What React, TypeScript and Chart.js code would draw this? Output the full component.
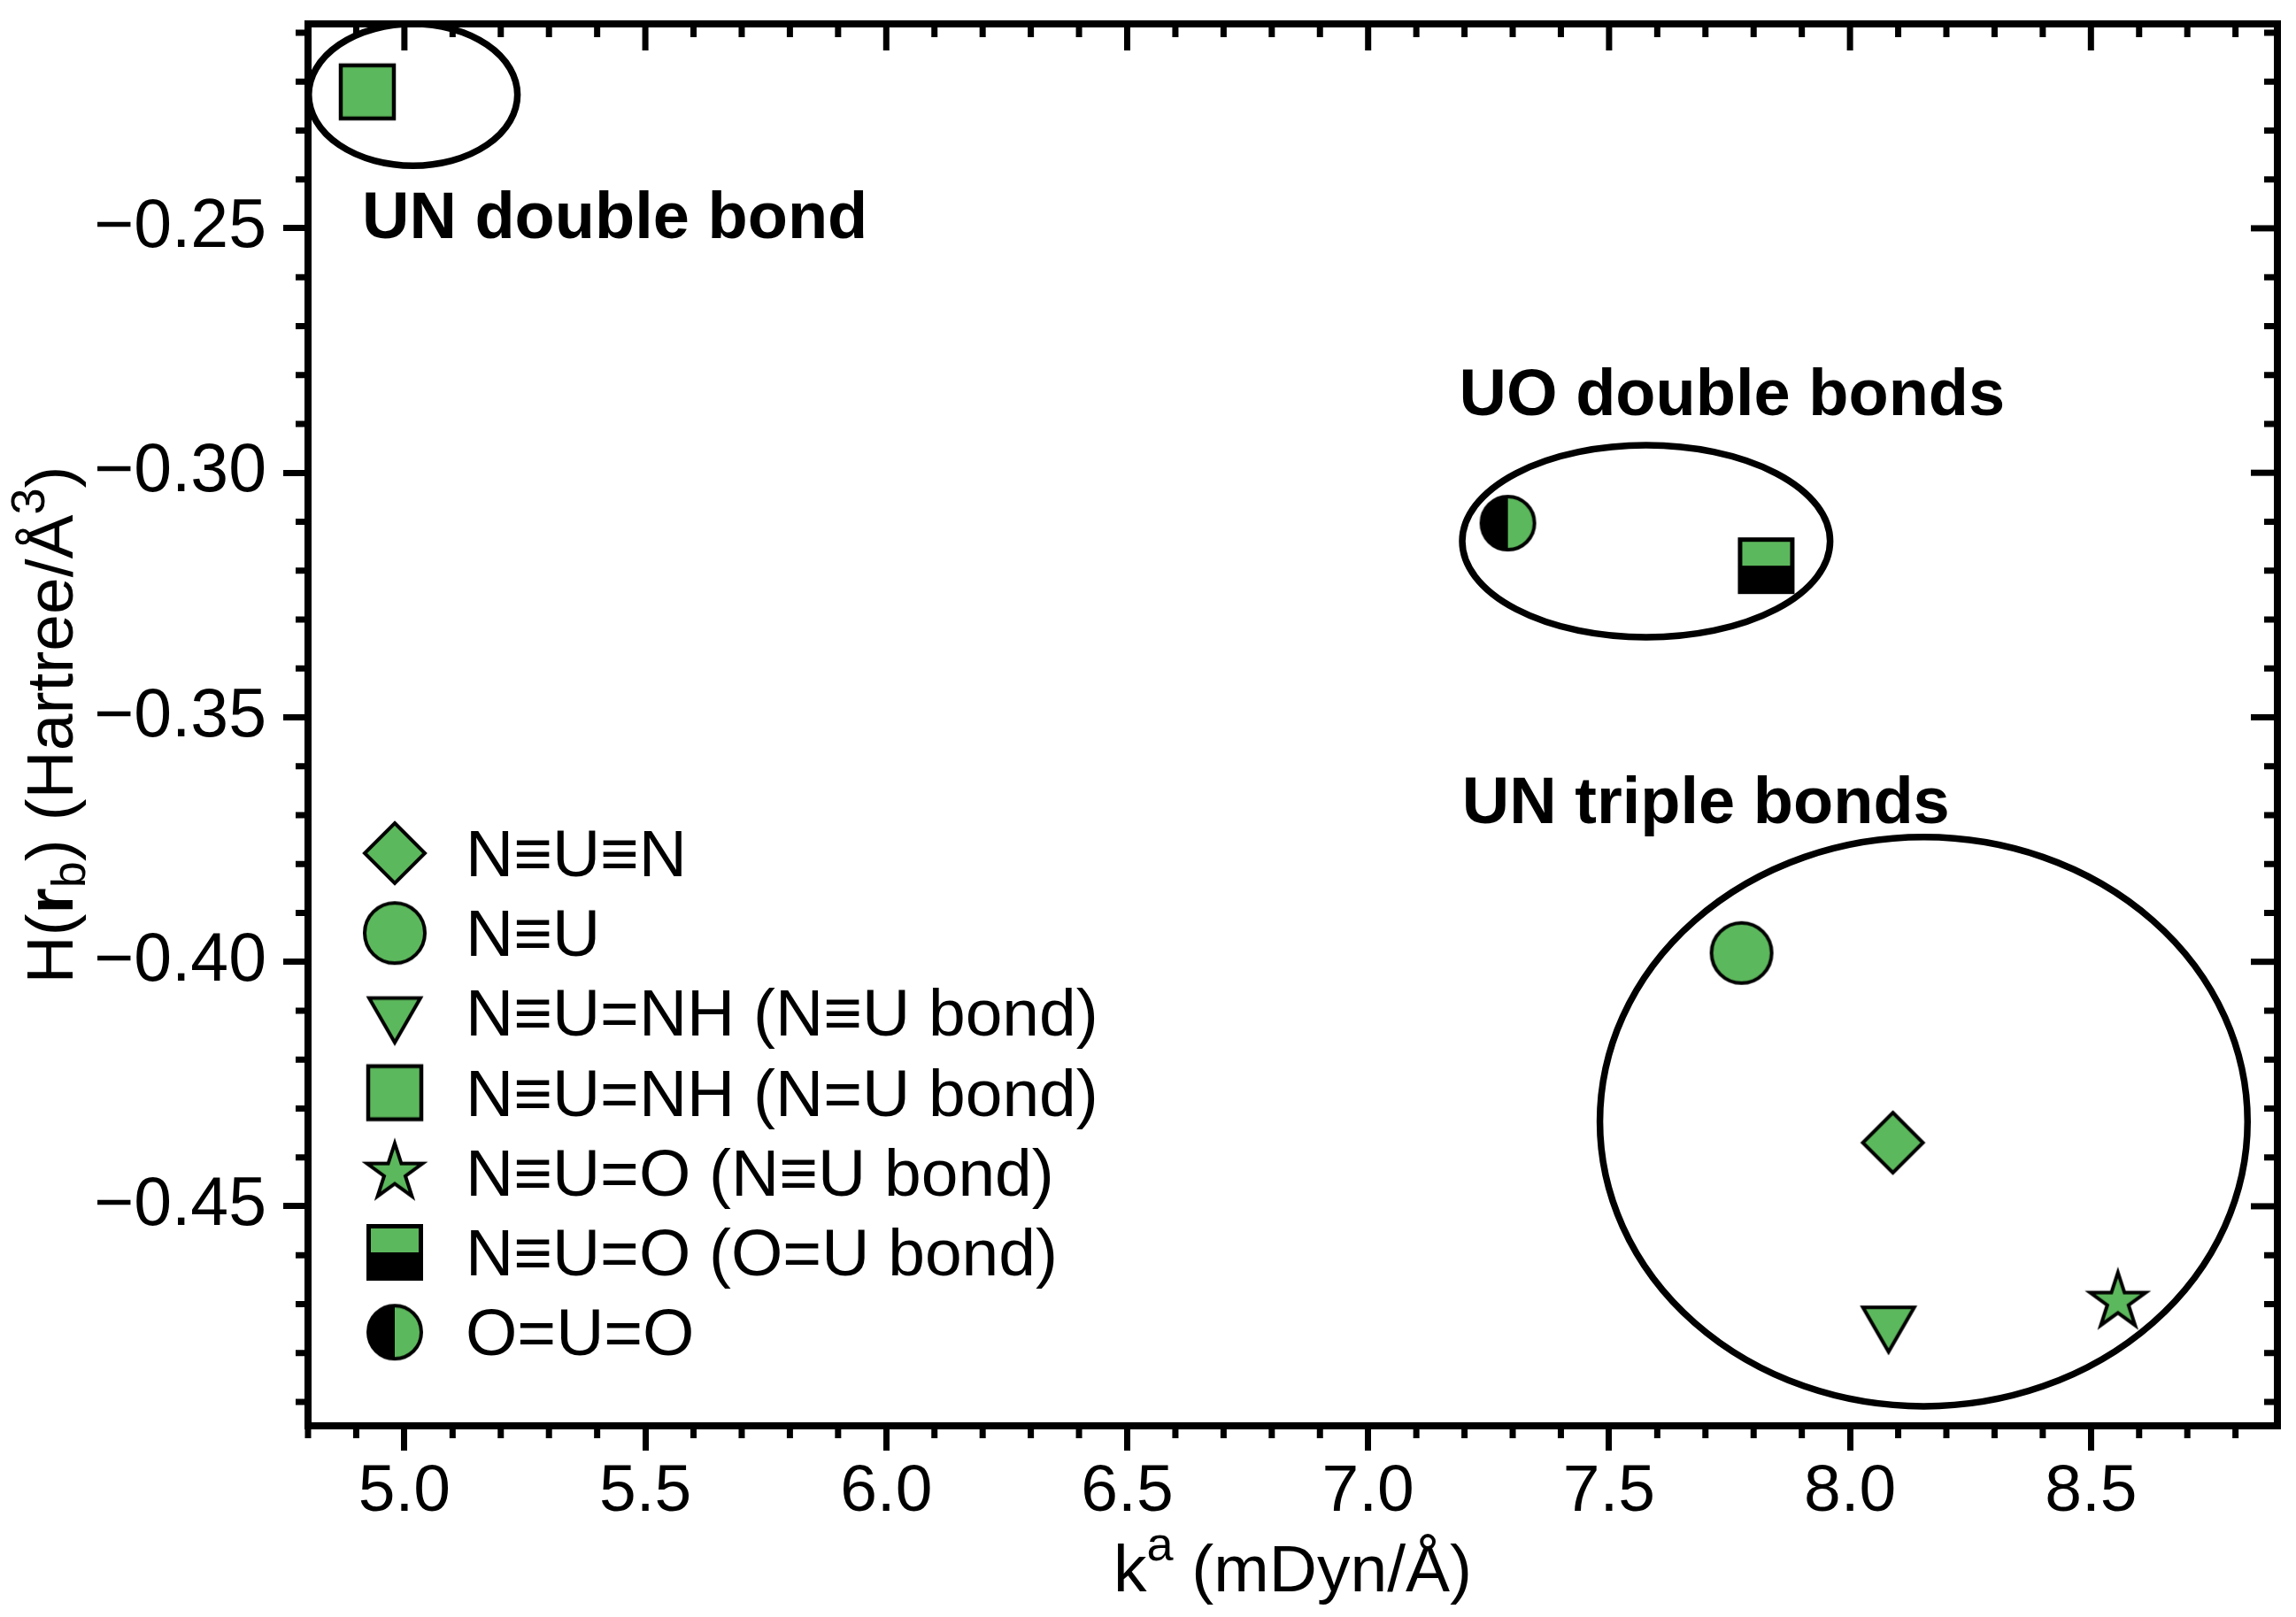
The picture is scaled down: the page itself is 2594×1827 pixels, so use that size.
import React, { useEffect, useRef } from 'react';
import { Chart, registerables } from 'chart.js';

Chart.register(...registerables);

// ---------------- data ----------------
const seriesLabels = [
  'N≡U≡N',
  'N≡U',
  'N≡U=NH (N≡U bond)',
  'N≡U=NH (N=U bond)',
  'N≡U=O (N≡U bond)',
  'N≡U=O (O=U bond)',
  'O=U=O',
];
// k^a (mDyn/Å)
const forceConstants = [8.089, 7.775, 8.080, 4.923, 8.556, 7.826, 7.290];
// H(r_b) (Hartree/Å^3)
const energyDensities = [-0.4370, -0.3982, -0.4737, -0.2221, -0.4695, -0.3190, -0.3103];
const markerKinds = ['diamond', 'circle', 'triangleDown', 'square', 'star', 'halfSquare', 'halfCircle'];

const xTickValues = [5.0, 5.5, 6.0, 6.5, 7.0, 7.5, 8.0, 8.5];
const yTickValues = [-0.45, -0.40, -0.35, -0.30, -0.25];
const xRange = [4.8, 8.887];
const yRange = [-0.4949, -0.2082];

// group annotations (data units)
const groupLabels = ['UN double bond', 'UO double bonds', 'UN triple bonds'];
const groupLabelX = [4.912, 7.189, 7.195];
const groupLabelY = [-0.2520, -0.2882, -0.3716];
const groupCenterX = [5.018, 7.577, 8.153];
const groupCenterY = [-0.2227, -0.3140, -0.4327];
const groupRadiusX = [0.2166, 0.3817, 0.672];
const groupRadiusY = [0.0145, 0.01964, 0.0582];

// ---------------- styles ----------------
const W = 2594;
const H = 1827;
const GREEN = '#5cb85c';
const FAMILY = '"Liberation Sans", Arial, Helvetica, sans-serif';

function makeMarker(kind: string): HTMLCanvasElement {
  const S = 90;
  const c = document.createElement('canvas');
  c.width = S;
  c.height = S;
  const g = c.getContext('2d') as CanvasRenderingContext2D;
  g.translate(S / 2, S / 2);
  g.lineWidth = 4;
  g.strokeStyle = '#000';
  g.fillStyle = GREEN;
  g.lineJoin = 'miter';
  g.beginPath();
  switch (kind) {
    case 'diamond':
      g.moveTo(0, -34);
      g.lineTo(34, 0);
      g.lineTo(0, 34);
      g.lineTo(-34, 0);
      g.closePath();
      g.fill();
      g.stroke();
      break;
    case 'circle':
      g.arc(0, 0, 34, 0, Math.PI * 2);
      g.fill();
      g.stroke();
      break;
    case 'triangleDown':
      g.moveTo(-29, -16.7);
      g.lineTo(29, -16.7);
      g.lineTo(0, 33.5);
      g.closePath();
      g.fill();
      g.stroke();
      break;
    case 'square':
      g.rect(-30, -30, 60, 60);
      g.fill();
      g.lineWidth = 4.5;
      g.stroke();
      break;
    case 'star': {
      const R = 33;
      const r = R * 0.382;
      for (let i = 0; i < 10; i++) {
        const ang = -Math.PI / 2 + (i * Math.PI) / 5;
        const rad = i % 2 === 0 ? R : r;
        const px = Math.cos(ang) * rad;
        const py = Math.sin(ang) * rad;
        if (i === 0) g.moveTo(px, py);
        else g.lineTo(px, py);
      }
      g.closePath();
      g.fill();
      g.stroke();
      break;
    }
    case 'halfSquare':
      g.fillStyle = GREEN;
      g.fillRect(-29.5, -29.5, 59, 29.5);
      g.fillStyle = '#000';
      g.fillRect(-29.5, 0, 59, 29.5);
      g.lineWidth = 5;
      g.strokeRect(-29.5, -29.5, 59, 59);
      break;
    case 'halfCircle':
      g.fillStyle = '#000';
      g.beginPath();
      g.arc(0, 0, 30, Math.PI / 2, (Math.PI * 3) / 2);
      g.closePath();
      g.fill();
      g.fillStyle = GREEN;
      g.beginPath();
      g.arc(0, 0, 30, -Math.PI / 2, Math.PI / 2);
      g.closePath();
      g.fill();
      g.beginPath();
      g.arc(0, 0, 30, 0, Math.PI * 2);
      g.stroke();
      break;
  }
  return c;
}

type Part = { text: string; font: string; dy: number };

function drawRich(ctx: CanvasRenderingContext2D, parts: Part[], cx: number, baseY: number) {
  let total = 0;
  const widths = parts.map((p) => {
    ctx.font = p.font;
    const w = ctx.measureText(p.text).width;
    total += w;
    return w;
  });
  let x = cx - total / 2;
  ctx.textAlign = 'left';
  ctx.textBaseline = 'alphabetic';
  parts.forEach((p, i) => {
    ctx.font = p.font;
    ctx.fillText(p.text, x, baseY + p.dy);
    x += widths[i];
  });
}

const decorPlugin = {
  id: 'decor',
  afterDatasetsDraw(chart: any) {
    const { ctx, chartArea: a, scales } = chart;
    const xs = scales.x;
    const ys = scales.y;
    // group ellipses
    ctx.save();
    ctx.beginPath();
    ctx.rect(a.left, a.top, a.right - a.left, a.bottom - a.top);
    ctx.clip();
    ctx.strokeStyle = '#000';
    ctx.lineWidth = 7.5;
    for (let i = 0; i < groupCenterX.length; i++) {
      const cx = xs.getPixelForValue(groupCenterX[i]);
      const cy = ys.getPixelForValue(groupCenterY[i]);
      const rx = Math.abs(xs.getPixelForValue(groupCenterX[i] + groupRadiusX[i]) - cx);
      const ry = Math.abs(ys.getPixelForValue(groupCenterY[i] + groupRadiusY[i]) - cy);
      ctx.beginPath();
      ctx.ellipse(cx, cy, rx, ry, 0, 0, Math.PI * 2);
      ctx.stroke();
    }
    ctx.restore();

    // group labels
    ctx.save();
    ctx.fillStyle = '#000';
    ctx.font = `bold 74px ${FAMILY}`;
    ctx.textAlign = 'left';
    ctx.textBaseline = 'alphabetic';
    for (let i = 0; i < groupLabels.length; i++) {
      ctx.fillText(groupLabels[i], xs.getPixelForValue(groupLabelX[i]), ys.getPixelForValue(groupLabelY[i]));
    }
    ctx.restore();

    // legend (inside plot, lower left)
    ctx.save();
    const markerX = a.left + 98;
    const textX = a.left + 178;
    const row0 = a.bottom - 647;
    const step = 90.2;
    ctx.font = `75px ${FAMILY}`;
    ctx.fillStyle = '#000';
    ctx.textAlign = 'left';
    ctx.textBaseline = 'alphabetic';
    chart.data.datasets.forEach((ds: any, i: number) => {
      const yy = row0 + i * step;
      const img = ds.pointStyle as HTMLCanvasElement;
      ctx.drawImage(img, markerX - img.width / 2, yy - img.height / 2);
      ctx.fillText(ds.label, textX, yy + 26);
    });
    ctx.restore();
  },
  afterDraw(chart: any) {
    const { ctx, chartArea: a, scales } = chart;
    const xs = scales.x;
    const ys = scales.y;
    ctx.save();
    ctx.strokeStyle = '#000';
    ctx.lineCap = 'butt';
    // minor & mirrored ticks
    ctx.lineWidth = 7;
    for (let k = 48; k <= 88; k++) {
      const px = xs.getPixelForValue(k / 10);
      const major = k % 5 === 0;
      ctx.beginPath();
      if (!major) {
        ctx.moveTo(px, a.bottom);
        ctx.lineTo(px, a.bottom + 14);
      }
      ctx.moveTo(px, a.top);
      ctx.lineTo(px, a.top + (major ? 30 : 15));
      ctx.stroke();
    }
    for (let k = -49; k <= -21; k++) {
      const py = ys.getPixelForValue(k / 100);
      const major = k % 5 === 0;
      ctx.beginPath();
      if (!major) {
        ctx.moveTo(a.left, py);
        ctx.lineTo(a.left - 14, py);
      }
      ctx.moveTo(a.right, py);
      ctx.lineTo(a.right - (major ? 30 : 15), py);
      ctx.stroke();
    }
    // frame
    ctx.lineWidth = 8;
    ctx.lineJoin = 'miter';
    ctx.strokeRect(a.left, a.top, a.right - a.left, a.bottom - a.top);
    ctx.restore();

    // axis titles
    ctx.save();
    ctx.fillStyle = '#000';
    const normal = `75px ${FAMILY}`;
    const small = `54px ${FAMILY}`;
    drawRich(
      ctx,
      [
        { text: 'k', font: normal, dy: 0 },
        { text: 'a', font: small, dy: -35 },
        { text: ' (mDyn/Å)', font: normal, dy: 0 },
      ],
      (a.left + a.right) / 2,
      a.bottom + 187
    );
    ctx.translate(a.left - 266, (a.top + a.bottom) / 2);
    ctx.rotate(-Math.PI / 2);
    drawRich(
      ctx,
      [
        { text: 'H(', font: normal, dy: 0 },
        { text: 'r', font: `bold 75px ${FAMILY}`, dy: 0 },
        { text: 'b', font: small, dy: 14 },
        { text: ') (Hartree/Å', font: normal, dy: 0 },
        { text: '3', font: small, dy: -32 },
        { text: ')', font: normal, dy: 0 },
      ],
      0,
      0
    );
    ctx.restore();
  },
};

export default function App() {
  const ref = useRef<HTMLCanvasElement>(null);
  useEffect(() => {
    document.body.style.margin = '0';
    document.body.style.overflow = 'hidden';
    const canvas = ref.current as HTMLCanvasElement;
    const markers = markerKinds.map((k) => makeMarker(k));
    const datasets = seriesLabels.map((label, i) => ({
      label,
      data: [{ x: forceConstants[i], y: energyDensities[i] }],
      pointStyle: markers[i],
      pointRadius: 20,
      pointHoverRadius: 20,
      backgroundColor: GREEN,
      borderColor: '#000',
      clip: false as any,
    }));
    const tickFont = { family: FAMILY, size: 75 };
    const chart = new Chart(canvas, {
      type: 'scatter',
      data: { datasets },
      options: {
        animation: false,
        responsive: false,
        devicePixelRatio: 1,
        events: [],
        layout: { padding: { top: 27, right: 19, left: 0, bottom: 0 } },
        plugins: { legend: { display: false }, tooltip: { enabled: false } },
        scales: {
          x: {
            type: 'linear',
            position: 'bottom',
            min: xRange[0],
            max: xRange[1],
            afterBuildTicks: (s: any) => {
              s.ticks = xTickValues.map((v) => ({ value: v }));
            },
            afterFit: (s: any) => {
              s.height = 216;
              s.paddingLeft = 0;
              s.paddingRight = 0;
            },
            ticks: {
              callback: (v: any) => Number(v).toFixed(1),
              font: tickFont,
              color: '#000',
              padding: 2,
              maxRotation: 0,
              autoSkip: false,
            },
            grid: {
              display: true,
              drawOnChartArea: false,
              drawTicks: true,
              tickLength: 28,
              tickWidth: 7,
              tickColor: '#000',
              color: '#000',
              lineWidth: 7,
            },
            border: { display: false },
          },
          y: {
            type: 'linear',
            position: 'left',
            min: yRange[0],
            max: yRange[1],
            afterBuildTicks: (s: any) => {
              s.ticks = yTickValues.map((v) => ({ value: v }));
            },
            afterFit: (s: any) => {
              s.width = 348;
              s.paddingTop = 0;
              s.paddingBottom = 0;
            },
            ticks: {
              callback: (v: any) => '\u2212' + Math.abs(Number(v)).toFixed(2),
              font: { family: FAMILY, size: 77 },
              color: '#000',
              padding: 19,
              autoSkip: false,
            },
            grid: {
              display: true,
              drawOnChartArea: false,
              drawTicks: true,
              tickLength: 28,
              tickWidth: 7,
              tickColor: '#000',
              color: '#000',
              lineWidth: 7,
            },
            border: { display: false },
          },
        },
      } as any,
      plugins: [decorPlugin],
    });
    return () => chart.destroy();
  }, []);
  return (
    <div style={{ width: W, height: H }}>
      <canvas ref={ref} width={W} height={H} style={{ display: 'block', width: W, height: H }} />
    </div>
  );
}
